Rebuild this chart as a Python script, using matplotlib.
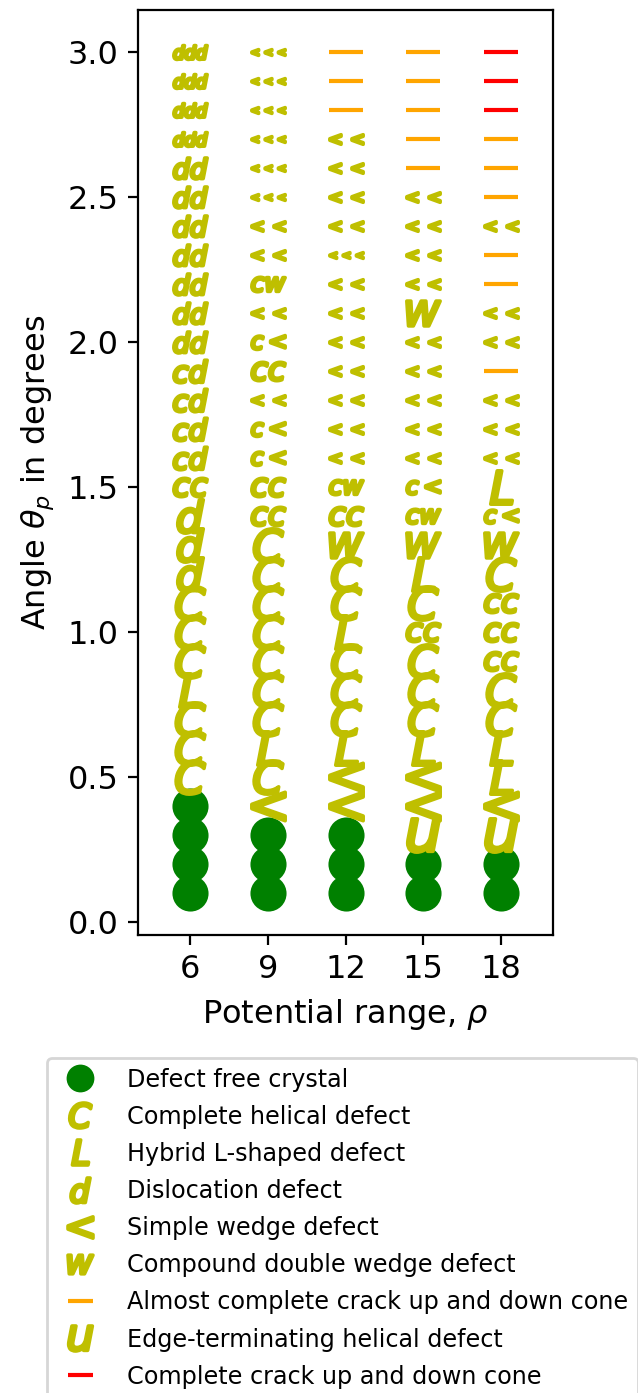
import numpy as np
import matplotlib.pyplot as plt
from matplotlib.lines import Line2D

# potential ranges (x) and tilt angles (y)
rho = [6, 9, 12, 15, 18]
theta = [0.1, 0.2, 0.3, 0.4, 0.5, 0.6, 0.7, 0.8, 0.9, 1.0,
         1.1, 1.2, 1.3, 1.4, 1.5, 1.6, 1.7, 1.8, 1.9, 2.0,
         2.1, 2.2, 2.3, 2.4, 2.5, 2.6, 2.7, 2.8, 2.9, 3.0]

# defect observed at each angle, bottom (0.1) to top (3.0)
# 'o' = defect free, '-' = almost complete crack, '=' = complete crack, rest are letter codes
rho6 = ['o', 'o', 'o', 'o', 'C', 'C', 'C', 'L', 'C', 'C',
        'C', 'd', 'd', 'd', 'cc', 'cd', 'cd', 'cd', 'cd', 'dd',
        'dd', 'dd', 'dd', 'dd', 'dd', 'dd', 'ddd', 'ddd', 'ddd', 'ddd']
rho9 = ['o', 'o', 'o', '<', 'C', 'L', 'C', 'C', 'C', 'C',
        'C', 'C', 'C', 'cc', 'cc', 'c<', 'c<', '<<', 'cc', 'c<',
        '<<', 'cw', '<<', '<<', '<<<', '<<<', '<<<', '<<<', '<<<', '<<<']
rho12 = ['o', 'o', 'o', '<', '<', 'L', 'C', 'C', 'C', 'L',
         'C', 'C', 'w', 'cc', 'cw', '<<', '<<', '<<', '<<', '<<',
         '<<', '<<', '<<<', '<<', '<<', '<<', '<<', '-', '-', '-']
rho15 = ['o', 'o', 'u', '<', '<', 'L', 'C', 'C', 'C', 'cc',
         'C', 'L', 'w', 'cw', 'c<', '<<', '<<', '<<', '<<', '<<',
         'w', '<<', '<<', '<<', '<<', '-', '-', '-', '-', '-']
rho18 = ['o', 'o', 'u', '<', 'L', 'L', 'C', 'C', 'cc', 'cc',
         'cc', 'C', 'w', 'c<', 'L', '<<', '<<', '<<', '-', '<<',
         '<<', '-', '-', '<<', '-', '-', '-', '=', '=', '=']
columns = [rho6, rho9, rho12, rho15, rho18]

legend_codes = ['o', 'C', 'L', 'd', '<', 'w', '-', 'u', '=']
legend_labels = ['Defect free crystal', 'Complete helical defect',
                 'Hybrid L-shaped defect', 'Dislocation defect',
                 'Simple wedge defect', 'Compound double wedge defect',
                 'Almost complete crack up and down cone',
                 'Edge-terminating helical defect',
                 'Complete crack up and down cone']

MS = 12


def style(code):
    if code == 'o':
        return dict(marker='o', color='g', mew=1.0)
    if code == '-':
        return dict(marker='_', color='orange', mew=1.5)
    if code == '=':
        return dict(marker='_', color='r', mew=1.5)
    return dict(marker='$' + code + '$', color='y', mew=1.3)


fig = plt.figure(figsize=(3.19, 6.965), dpi=200)
ax = fig.add_axes([0.2163, 0.3288, 0.6505, 0.664])

for x, col in zip(rho, columns):
    for y, code in zip(theta, col):
        ax.plot(x, y, ls='none', ms=MS, **style(code))

ax.set_xlim(4, 20)
ax.set_xticks(rho)
ax.tick_params(labelsize=11.5)
ax.set_xlabel(r'Potential range, $\rho$', fontsize=11.5)
ax.set_ylabel(r'Angle $\theta_p$ in degrees', fontsize=11.5)

handles = [Line2D([], [], ls='none', ms=MS, **style(c)) for c in legend_codes]
fig.legend(handles, legend_labels, loc='upper left',
           bbox_to_anchor=(47 / 638, 1 - 1058 / 1393), borderaxespad=0,
           fontsize=8.6, markerscale=0.75, handletextpad=0.95,
           labelspacing=0.55)

fig.savefig('out.png', dpi=200)
